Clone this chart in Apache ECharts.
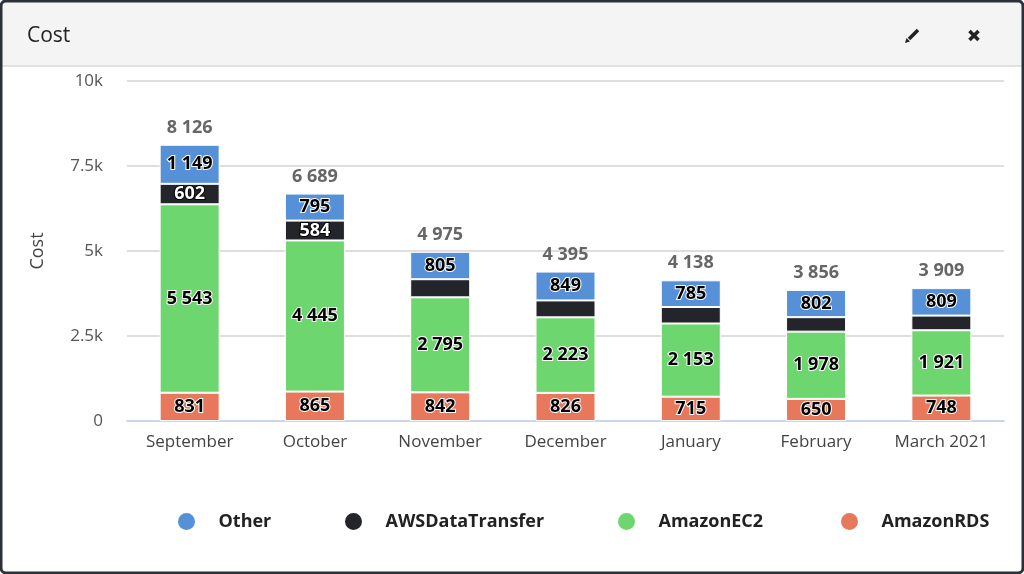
<!DOCTYPE html>
<html>
<head>
<meta charset="utf-8">
<script src="https://cdn.jsdelivr.net/npm/echarts@6/dist/echarts.min.js"></script>
<style>
  html, body { margin: 0; padding: 0; background: #fff; }
  #chart { width: 1024px; height: 574px; }
</style>
</head>
<body>
<div id="chart"></div>
<script>
const months = ['September', 'October', 'November', 'December', 'January', 'February', 'March 2021'];
const amazonRDS = [831, 865, 842, 826, 715, 650, 748];
const amazonEC2 = [5543, 4445, 2795, 2223, 2153, 1978, 1921];
const awsDataTransfer = [602, 584, 533, 497, 485, 426, 431];
const other = [1149, 795, 805, 849, 785, 802, 809];
const totals = [8126, 6689, 4975, 4395, 4138, 3856, 3909];
const yTicks = [0, 2500, 5000, 7500, 10000];
const legendNames = ['Other', 'AWSDataTransfer', 'AmazonEC2', 'AmazonRDS'];

const fontFamily = '"Open Sans", "Noto Sans", sans-serif';

// 8126 -> "8 126"
const fmt = (v) => String(v).replace(/\B(?=(\d{3})+(?!\d))/g, ' ');

const chart = echarts.init(document.getElementById('chart'));

const segLabel = (dark) => ({
  show: true,
  position: 'inside',
  fontFamily: fontFamily,
  fontSize: 18,
  fontWeight: 'bold',
  color: dark ? '#fff' : '#000',
  textBorderColor: dark ? '#000' : '#fff',
  textBorderWidth: 2,
  // small segments get no label
  formatter: (p) => (p.value < 550 ? '' : fmt(p.value)),
});

const stackSeries = (name, data, color, dark) => ({
  name: name,
  type: 'bar',
  stack: 'cost',
  data: data,
  barWidth: 60,
  itemStyle: { color: color, borderColor: '#fff', borderWidth: 1 },
  label: segLabel(dark),
});

// one legend per item so they sit where the reference has them
const legendLefts = [171, 338, 611, 834];
const legends = legendNames.map((name, i) => ({
  data: [name],
  top: 506,
  left: legendLefts[i],
  icon: 'circle',
  itemWidth: 54,
  itemHeight: 19,
  textStyle: { fontSize: 18, fontWeight: 'bold', color: '#222', fontFamily: fontFamily },
}));

const options = {
  animation: false,
  textStyle: { fontFamily: fontFamily },
  graphic: [
    {
      type: 'rect',
      shape: { x: 2, y: 2, width: 1020, height: 63 },
      style: { fill: '#f4f4f4' },
    },
    {
      type: 'rect',
      shape: { x: 2, y: 65, width: 1020, height: 2 },
      style: { fill: '#e2e2e2' },
    },
    {
      type: 'text',
      left: 27,
      top: 26,
      style: { text: 'Cost', font: '21px ' + fontFamily, fill: '#222' },
    },
    // pencil
    {
      type: 'line',
      shape: { x1: 909, y1: 39, x2: 918, y2: 30 },
      style: { stroke: '#222', lineWidth: 3.5 },
    },
    {
      type: 'polygon',
      shape: { points: [[905, 43], [906.5, 38], [910, 41.5]] },
      style: { fill: '#222' },
    },
    // close
    {
      type: 'line',
      shape: { x1: 969.5, y1: 31, x2: 978.5, y2: 40 },
      style: { stroke: '#222', lineWidth: 3.5 },
    },
    {
      type: 'line',
      shape: { x1: 978.5, y1: 31, x2: 969.5, y2: 40 },
      style: { stroke: '#222', lineWidth: 3.5 },
    },
    {
      type: 'rect',
      shape: { x: 1, y: 1, width: 1022, height: 572, r: 5 },
      style: { fill: 'none', stroke: '#2c3038', lineWidth: 3 },
    },
  ],
  grid: { left: 127, right: 20, top: 81, bottom: 153 },
  legend: legends,
  xAxis: {
    type: 'category',
    data: months,
    axisTick: { show: false },
    axisLine: { lineStyle: { color: '#ccd6eb', width: 2 } },
    axisLabel: { color: '#444', fontSize: 17, margin: 13 },
  },
  yAxis: {
    type: 'value',
    name: 'Cost',
    nameLocation: 'middle',
    nameGap: 80,
    nameTextStyle: { fontSize: 18, color: '#444' },
    min: yTicks[0],
    max: yTicks[yTicks.length - 1],
    interval: 2500,
    splitLine: { lineStyle: { color: '#dedede', width: 2 } },
    axisLabel: {
      color: '#555',
      fontSize: 17,
      margin: 24,
      formatter: (v) => (v === 0 ? '0' : v / 1000 + 'k'),
    },
  },
  series: [
    stackSeries('AmazonRDS', amazonRDS, '#e8785c', false),
    stackSeries('AmazonEC2', amazonEC2, '#6ed66e', false),
    stackSeries('AWSDataTransfer', awsDataTransfer, '#23252b', true),
    stackSeries('Other', other, '#5691d8', false),
    {
      // totals shown above each bar
      name: 'Total',
      type: 'bar',
      data: totals,
      barWidth: 60,
      barGap: '-100%',
      z: 1,
      silent: true,
      itemStyle: { color: 'rgba(0,0,0,0)' },
      label: {
        show: true,
        position: 'top',
        distance: 8,
        fontSize: 18,
        fontWeight: 'bold',
        color: '#666',
        formatter: (p) => fmt(p.value),
      },
    },
  ],
};

chart.setOption(options);
</script>
</body>
</html>
